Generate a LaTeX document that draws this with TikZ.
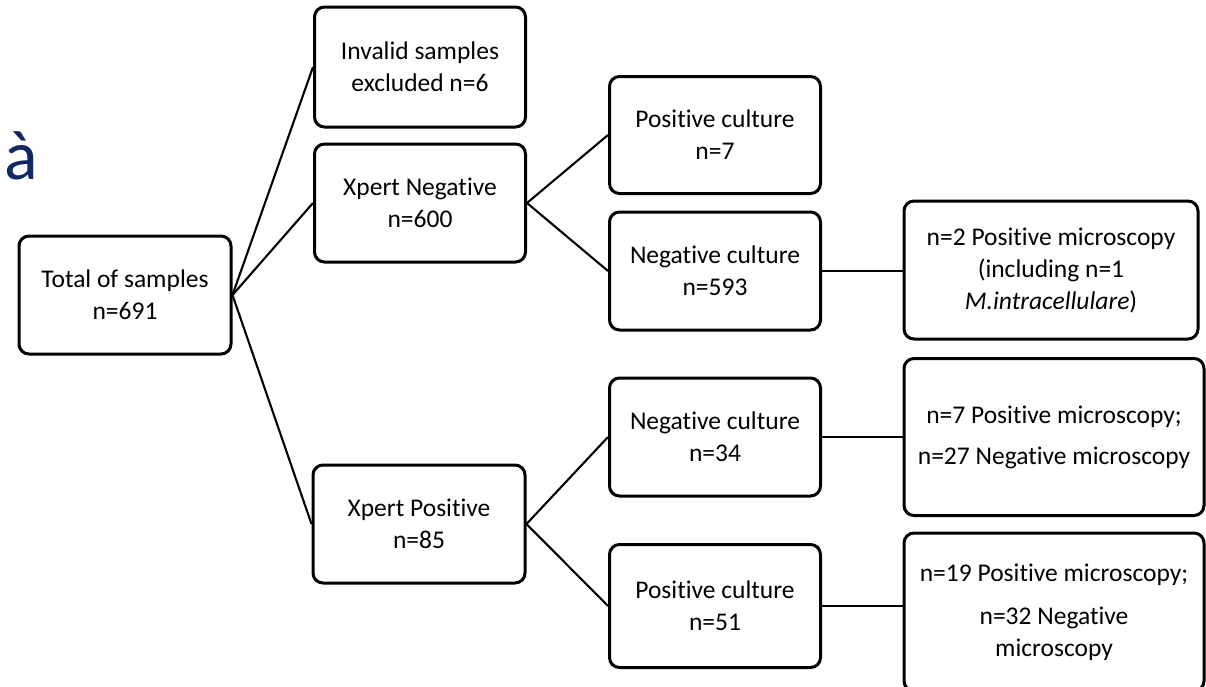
\documentclass[tikz,border=0pt]{standalone}
\usepackage{fontspec}
\setmainfont{Carlito}[Ligatures=NoCommon]
\definecolor{navy}{RGB}{18,40,100}
\tikzset{box/.style={draw,rounded corners=10pt,line width=3pt,align=center,inner sep=0pt,font=\fontsize{25.5}{32}\selectfont},
link/.style={line width=2.1pt}}

\begin{document}
\begin{tikzpicture}[x=1pt,y=-1pt]
\useasboundingbox (0,0) rectangle (1206,686);
\node[text=navy,font=\fontsize{70}{76}\selectfont] (accent) at (21,156){à};
\node[box,minimum width=212pt,minimum height=118pt] (total) at (125,295){Total of samples\\n=691};
\node[box,minimum width=211pt,minimum height=120pt] (invalid) at (420,67){Invalid samples\\excluded n=6};
\node[box,minimum width=211pt,minimum height=118pt] (xneg) at (420,203){Xpert Negative\\n=600};
\node[box,minimum width=212pt,minimum height=118pt] (xpos) at (419,524){Xpert Positive\\n=85};
\node[box,minimum width=211pt,minimum height=117pt] (poscult) at (715,135){Positive culture\\n=7};
\node[box,minimum width=211pt,minimum height=118pt] (negcult) at (715,271){Negative culture\\n=593};
\node[box,minimum width=211pt,minimum height=118pt] (negcultb) at (715,437){Negative culture\\n=34};
\node[box,minimum width=211pt,minimum height=123pt] (poscultb) at (715,606){Positive culture\\n=51};
\node[box,minimum width=294pt,minimum height=138pt] (micro) at (1051,270){n=2 Positive microscopy\\(including n=1\\\textit{M.intracellulare})};
\node[box,minimum width=300pt,minimum height=157pt] (microb) at (1054,437){n=7 Positive microscopy;\\[9pt]n=27 Negative microscopy};
\node[box,minimum width=300pt,minimum height=158pt] (microc) at (1054,612){n=19 Positive microscopy;\\[11pt]n=32 Negative\\microscopy};
% branches
\foreach \a/\b in {total/invalid,total/xneg,total/xpos,xneg/poscult,xneg/negcult,xpos/negcultb,xpos/poscultb}{\draw[link] (\a.east)--(\b.west);}
\foreach \a/\b in {negcult/micro,negcultb/microb,poscultb/microc}{\draw[link] (\a.east)--(\a.east-|\b.west);}
\end{tikzpicture}
\end{document}
